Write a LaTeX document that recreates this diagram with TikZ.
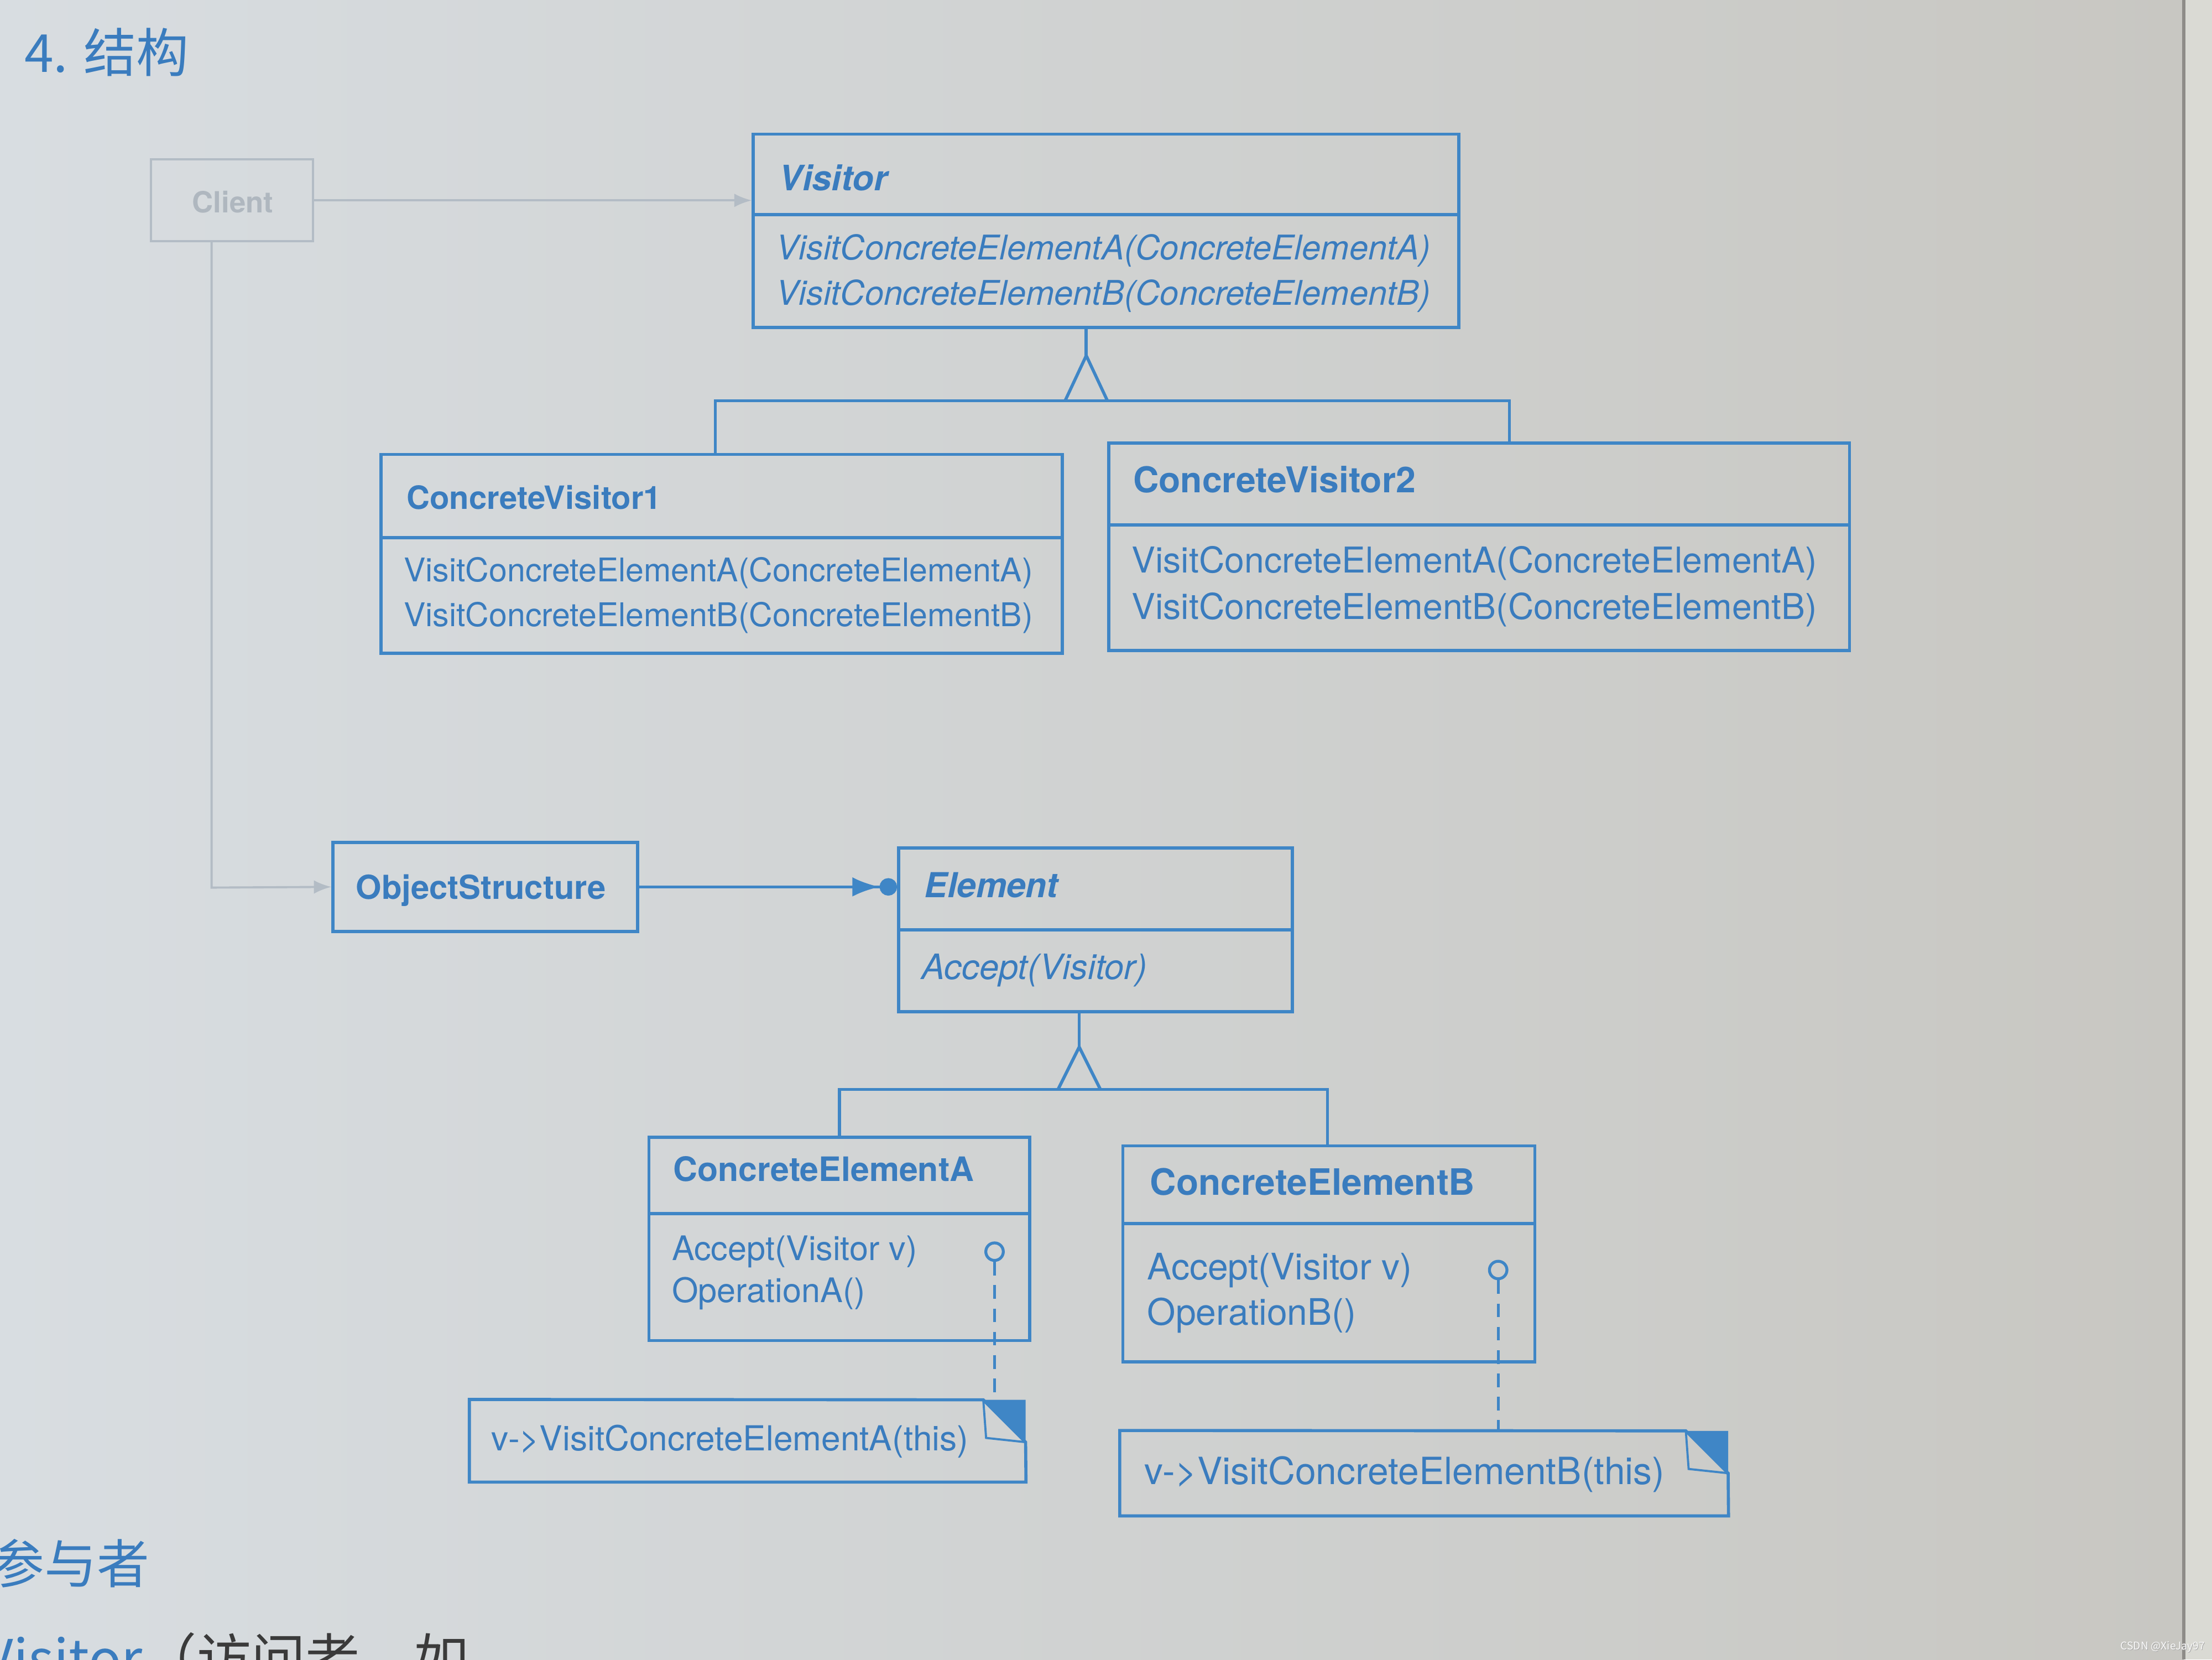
\documentclass[tikz,border=0pt]{standalone}
\usepackage{fontspec}
\setmainfont{TeX Gyre Heros}
\newfontfamily\cjk{Noto Sans CJK SC}
\usetikzlibrary{arrows.meta,fit}
\definecolor{paperL}{HTML}{D8DDE1}
\definecolor{paperM}{HTML}{D4D8DA}
\definecolor{paperR}{HTML}{C8C7C2}
\definecolor{pageEdge}{HTML}{DADAD4}
\definecolor{edgeDark}{HTML}{8E8C88}
\definecolor{lineblue}{HTML}{3F86C6}
\definecolor{txtblue}{HTML}{3A7CBE}
\definecolor{faintline}{HTML}{B3BCC5}
\definecolor{fainttxt}{HTML}{AFB7BF}
\definecolor{darktxt}{HTML}{3A3A3A}
\newcommand{\myfs}[1]{\fontsize{#1}{#1}\selectfont}
\begin{document}
\begin{tikzpicture}[x=0.02551cm, y=-0.02551cm,
  box/.style={draw=lineblue, line width=1.6pt, inner sep=0pt},
  ln/.style={draw=lineblue, line width=1.6pt},
  dln/.style={draw=lineblue, line width=1.5pt, dash pattern=on 7pt off 5pt},
  lbl/.style={anchor=base west, inner sep=0pt, text=txtblue},
  faintbox/.style={draw=faintline, line width=1.1pt, inner sep=0pt},
  faintln/.style={draw=faintline, line width=1.1pt},
  inh/.style={draw=lineblue, line width=1.6pt, line join=miter}]
\useasboundingbox (0,0) rectangle (1568,1176);
% paper
\shade[left color=paperL, middle color=paperM, right color=paperR] (0,0) rectangle (1548,1176);
\fill[pageEdge] (1548,0) rectangle (1568,1176);
\draw[edgeDark, line width=1.5pt] (1548,0) -- (1548,1176);

% headings
\node[anchor=west, inner sep=0pt, text=txtblue, font=\cjk\myfs{27}] (head) at (17,37) {4. 结构};
\node[anchor=base west, inner sep=0pt, text=txtblue, font=\cjk\myfs{27}] (part) at (-6,1122) {参与者};
\node[anchor=base west, inner sep=0pt, font=\cjk\myfs{28}] (bottomline) at (-13,1190) {\textcolor{txtblue}{Visitor}\textcolor{darktxt}{（访问者，如}};

% Client (faint)
\node[faintbox, fit={(107,113) (222,171)}] (client) {};
\node[inner sep=0pt, text=fainttxt, font=\myfs{15}\bfseries] (clientT) at (165,143) {Client};

% Visitor
\node[box, fit={(534,95) (1034,232)}] (visitor) {};
\draw[ln] (534,152) -- (1034,152);
\node[lbl, font=\myfs{18}\bfseries\itshape] (visitorT) at (552,135) {Visitor};
\node[lbl, font=\myfs{17.5}\itshape] (visitorM1) at (550,184) {VisitConcreteElementA(ConcreteElementA)};
\node[lbl, font=\myfs{17.5}\itshape] (visitorM2) at (550,216) {VisitConcreteElementB(ConcreteElementB)};

% ConcreteVisitor1
\node[box, fit={(270,322) (753,463)}] (cv1) {};
\draw[ln] (270,381) -- (753,381);
\node[lbl, font=\myfs{16.5}\bfseries] (cv1T) at (288,361) {ConcreteVisitor1};
\node[lbl, font=\myfs{16.8}] (cv1M1) at (286,412) {VisitConcreteElementA(ConcreteElementA)};
\node[lbl, font=\myfs{16.8}] (cv1M2) at (286,444) {VisitConcreteElementB(ConcreteElementB)};

% ConcreteVisitor2
\node[box, fit={(786,314) (1311,461)}] (cv2) {};
\draw[ln] (786,372) -- (1311,372);
\node[lbl, font=\myfs{18.3}\bfseries] (cv2T) at (803,349) {ConcreteVisitor2};
\node[lbl, font=\myfs{18.3}] (cv2M1) at (802,406) {VisitConcreteElementA(ConcreteElementA)};
\node[lbl, font=\myfs{18.3}] (cv2M2) at (802,439) {VisitConcreteElementB(ConcreteElementB)};

% inheritance Visitor
\coordinate (vApex) at (770,252);
\coordinate (vbl) at (507,284);
\coordinate (vbr) at (1070,284);
\draw[ln] (visitor.south -| vApex) -- (vApex);
\draw[inh] (755,284) -- (vApex) -- (785,284);
\draw[ln] (cv1.north -| vbl) -- (vbl) -- (vbr) -- (cv2.north -| vbr);

% ObjectStructure
\node[box, fit={(236,597) (452,660)}] (os) {};
\node[lbl, font=\myfs{17}\bfseries] (osT) at (252,637) {ObjectStructure};

% Element
\node[box, fit={(637,601) (916,717)}] (el) {};
\draw[ln] (637,659) -- (916,659);
\node[lbl, font=\myfs{17.7}\bfseries\itshape] (elT) at (655,636) {Element};
\node[lbl, font=\myfs{18}\itshape] (elM) at (653,694) {Accept(Visitor)};

% client connectors (faint)
\coordinate (cturn) at (150,629);
\draw[faintln, -{Latex[length=9pt,width=7pt]}] (client.east) -- (visitor.west |- client.east);
\draw[faintln, -{Latex[length=9pt,width=7pt]}] (client.south -| cturn) -- (cturn) -- (os.west);

% OS -> Element
\draw[ln, -{Latex[length=14pt,width=10pt] Circle[length=9pt]}, lineblue] (os.east) -- (el.west |- os.east);

% ConcreteElementA
\node[box, fit={(460,806) (730,950)}] (cea) {};
\draw[ln] (460,860) -- (730,860);
\node[lbl, font=\myfs{17.3}\bfseries] (ceaT) at (477,837) {ConcreteElementA};
\node[lbl, font=\myfs{17.4}] (ceaM1) at (476,893) {Accept(Visitor v)};
\node[lbl, font=\myfs{17.4}] (ceaM2) at (476,923) {OperationA()};

% ConcreteElementB
\node[box, fit={(796,812) (1088,965)}] (ceb) {};
\draw[ln] (796,867) -- (1088,867);
\node[lbl, font=\myfs{18.7}\bfseries] (cebT) at (815,847) {ConcreteElementB};
\node[lbl, font=\myfs{18.8}] (cebM1) at (813,907) {Accept(Visitor v)};
\node[lbl, font=\myfs{18.8}] (cebM2) at (813,939) {OperationB()};

% inheritance Element
\coordinate (eApex) at (765,742);
\coordinate (ebl) at (595,772);
\coordinate (ebr) at (941,772);
\draw[ln] (el.south -| eApex) -- (eApex);
\draw[inh] (750,772) -- (eApex) -- (780,772);
\draw[ln] (cea.north -| ebl) -- (ebl) -- (ebr) -- (ceb.north -| ebr);

% notes
\node[inner sep=0pt, fit={(333,992) (727,1050)}] (noteA) {};
\draw[ln] (noteA.north west) -- (697,992) -- (727,1022) -- (noteA.south east) -- (noteA.south west) -- cycle;
\fill[lineblue] (697,992) -- (727,992) -- (727,1022) -- cycle;
\draw[lineblue, line width=1.1pt] (697,992) -- (699,1019) -- (727,1022);
\node[lbl, font=\myfs{17.7}] (noteAT) at (348,1028) {v->VisitConcreteElementA(this)};

\node[inner sep=0pt, fit={(794,1014) (1225,1074)}] (noteB) {};
\draw[ln] (noteB.north west) -- (1195,1014) -- (1225,1044) -- (noteB.south east) -- (noteB.south west) -- cycle;
\fill[lineblue] (1195,1014) -- (1225,1014) -- (1225,1044) -- cycle;
\draw[lineblue, line width=1.1pt] (1195,1014) -- (1197,1041) -- (1225,1044);
\node[lbl, font=\myfs{19.3}] (noteBT) at (811,1052) {v->VisitConcreteElementB(this)};

% lollipops and dashed note links
\node[draw=lineblue, line width=1.5pt, circle, minimum size=9pt, inner sep=0pt] (dotA) at (705,887) {};
\node[draw=lineblue, line width=1.5pt, circle, minimum size=9pt, inner sep=0pt] (dotB) at (1062,900) {};
\draw[dln] (dotA.south) -- (noteA.north -| dotA);
\draw[dln] (dotB.south) -- (noteB.north -| dotB);

% watermark
\node[inner sep=0pt, text=gray!70, font=\cjk\myfs{5.5}] (wm2) at (1533.4,1167.4) {CSDN @XieJay97};
\node[inner sep=0pt, text=white!95!gray, font=\cjk\myfs{5.5}] (wm) at (1533,1167) {CSDN @XieJay97};
\end{tikzpicture}
\end{document}
